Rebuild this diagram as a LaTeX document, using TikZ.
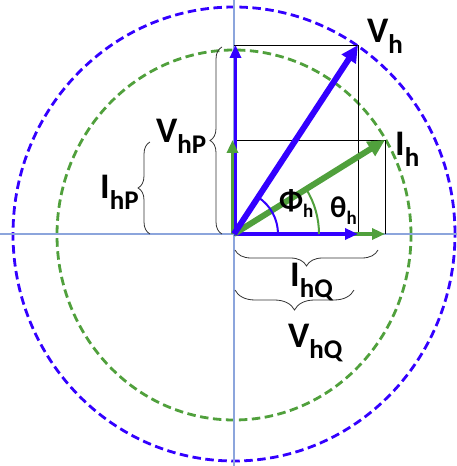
\documentclass[tikz,border=0pt]{standalone}
\usepackage{fontspec}
\setmainfont{Carlito}
\usepackage{tikz}
\usetikzlibrary{arrows.meta,decorations.pathreplacing,positioning}

\definecolor{vblue}{RGB}{51,0,255}
\definecolor{igreen}{RGB}{80,160,60}
\definecolor{axisblue}{RGB}{140,165,220}

\newcommand{\sbs}[1]{\raisebox{-11pt}{\fontsize{27}{27}\selectfont #1}}
\newcommand{\asub}[1]{\raisebox{-7pt}{\fontsize{19}{19}\selectfont #1}}

\begin{document}
\begin{tikzpicture}[
    x=1pt, y=1pt,
    lab/.style={inner sep=0pt, anchor=base west, font=\fontsize{36}{36}\selectfont\bfseries},
    anglab/.style={inner sep=0pt, anchor=base west, font=\fontsize{30}{30}\selectfont\bfseries},
    ring/.style={dash pattern=on 8.5pt off 4.5pt, line width=2.8pt},
    axis/.style={draw=axisblue, line width=1.2pt},
    box/.style={draw=black, line width=0.9pt},
    vbig/.style={draw=vblue, line width=6pt, -{Triangle[length=17pt,width=16pt]}},
    vsmall/.style={draw=vblue, line width=3.5pt, -{Triangle[length=13pt,width=11pt]}},
    ibig/.style={draw=igreen, line width=6pt, -{Triangle[length=17pt,width=16pt]}},
    ismall/.style={draw=igreen, line width=3.5pt, -{Triangle[length=13pt,width=11pt]}},
    brace/.style={decorate, decoration={brace, amplitude=#1}, draw=black!80, line width=0.8pt}
]
    \useasboundingbox (-234,-232) rectangle (223,234);

    \draw [ring, vblue] (0,0) ellipse [x radius=221, y radius=227];
    \draw [ring, igreen] (0,-1) ellipse [x radius=177, y radius=185];

    \coordinate (xl) at (-234,0);
    \coordinate (xr) at (223,0);
    \coordinate (yt) at (0,234);
    \coordinate (yb) at (0,-232);
    \draw [axis] (xl) -- (xr);
    \draw [axis] (yt) -- (yb);

    \coordinate (O) at (0,0);
    \coordinate (Vh) at (124,189);
    \coordinate (Ih) at (151,94);
    \coordinate (VP) at (0,189);
    \coordinate (IP) at (0,94);
    \coordinate (VQ) at (124,0);
    \coordinate (IQ) at (151,0);

    \draw [box] (VP) -- (Vh) -- (VQ);
    \draw [box] (IP) -- (Ih) -- (IQ);

    \draw [vsmall] ([xshift=1.5pt]O) -- ([xshift=1.5pt]VP);
    \draw [ismall] ([xshift=-1.5pt]O) -- ([xshift=-1.5pt]IP);
    \draw [ismall] (O) -- (IQ);
    \draw [vsmall] (O) -- (VQ);
    \draw [ibig] (O) -- (Ih);
    \draw [vbig] (O) -- (Vh);

    \draw [vblue, line width=2pt] ([xshift=44pt]O) arc [start angle=0, end angle=56.7, radius=44];
    \draw [igreen, line width=2pt] ([xshift=85pt]O) arc [start angle=0, end angle=31.9, radius=85];

    \coordinate (bVP1) at (-12,0);
    \coordinate (bVP2) at (-12,187);
    \coordinate (bIP1) at (-84,0);
    \coordinate (bIP2) at (-84,92);
    \coordinate (bIQ1) at (144,-16);
    \coordinate (bIQ2) at (1,-16);
    \coordinate (bVQ1) at (120,-56);
    \coordinate (bVQ2) at (1,-56);
    \draw [brace=12pt] (bVP1) -- (bVP2);
    \draw [brace=12pt] (bIP1) -- (bIP2);
    \draw [brace=16pt] (bIQ1) -- (bIQ2);
    \draw [brace=20pt] (bVQ1) -- (bVQ2);

    \node [lab] (lVh) at (133,191) {V\sbs{h}};
    \node [lab] (lIh) at (161,78) {I\sbs{h}};
    \node [lab] (lVhP) at (-78,92) {V\sbs{hP}};
    \node [lab] (lIhP) at (-134,36) {I\sbs{hP}};
    \node [lab] (lIhQ) at (56,-52) {I\sbs{hQ}};
    \node [lab] (lVhQ) at (54,-113) {V\sbs{hQ}};
    \node [anglab] (lPhi) at (45,24) {Φ\asub{h}};
    \node [anglab] (lTheta) at (96,17) {θ\asub{h}};
\end{tikzpicture}
\end{document}
